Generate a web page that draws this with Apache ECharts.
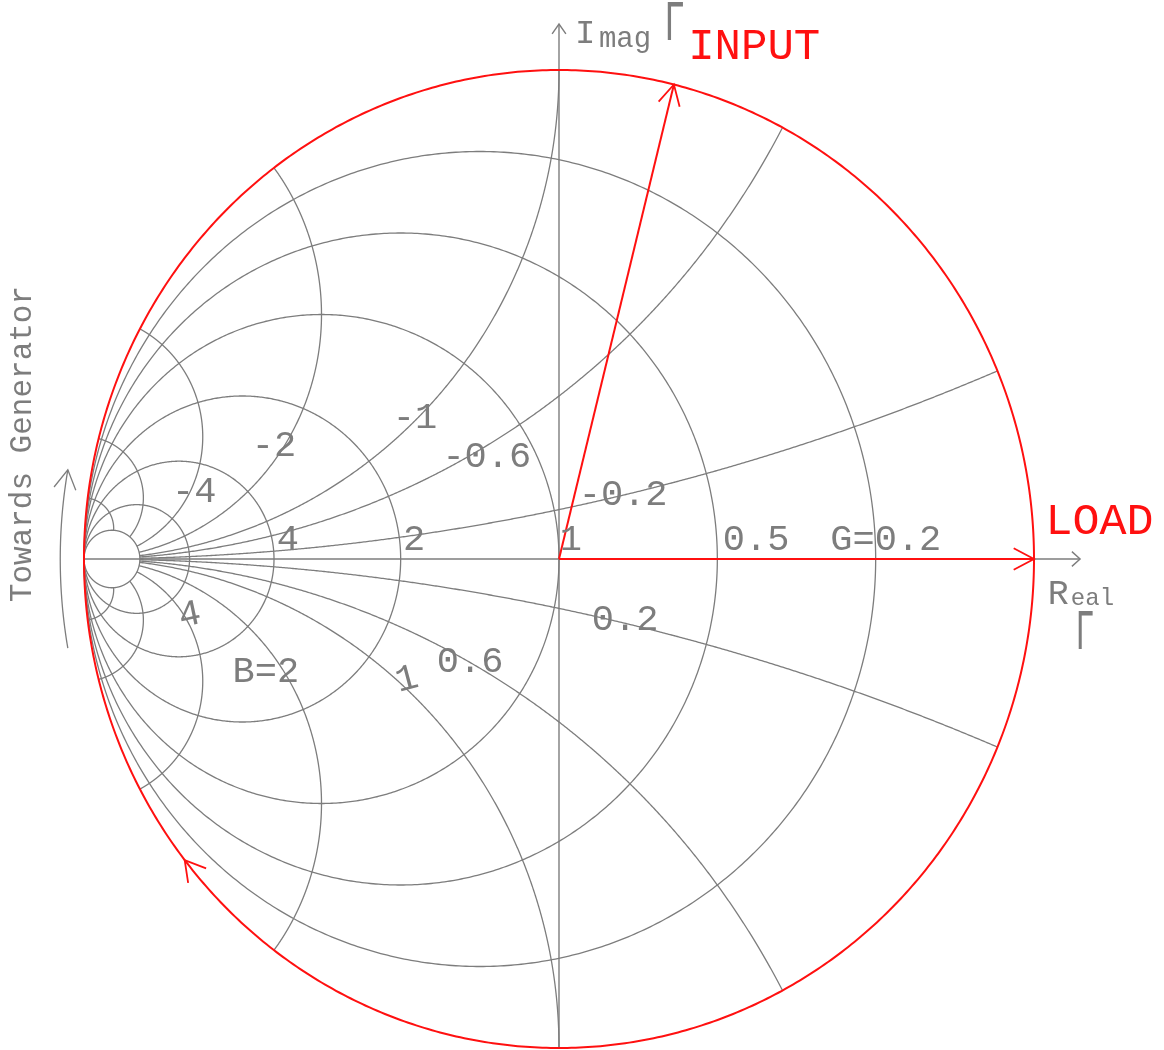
<!DOCTYPE html>
<html>
<head>
<meta charset="utf-8">
<script src="https://cdn.jsdelivr.net/npm/echarts@6/dist/echarts.min.js"></script>
<style>
html, body { margin: 0; padding: 0; background: #ffffff; }
#chart { width: 1164px; height: 1050px; }
</style>
</head>
<body>
<div id="chart"></div>
<script>
// Admittance (Y) Smith chart with load and input reflection vectors.

// Constant-conductance circles (normalised G)
const conductanceCircles = [0.2, 0.5, 1, 2, 4, 8, 16];
// Constant-susceptance arcs (normalised B), drawn from the rim up to the last G circle
const susceptanceArcs = [-16, -8, -4, -2, -1, -0.6, -0.2, 0.2, 0.6, 1, 2, 4, 8, 16];
const conductanceLimit = 16;
// Reflection coefficient vectors: |Γ| and angle in degrees
const vectorNames = ['LOAD', 'INPUT'];
const vectorMagnitude = [1, 1];
const vectorAngleDeg = [0, 76];
// Rim arrow showing rotation direction towards the generator (angle in degrees)
const rimArrowAngleDeg = [218];
// Grid labels
const gridLabelText = ['-0.2', '-0.6', '-1', '-2', '-4', '4', '2', '1', '0.5', 'G=0.2', '0.2', '0.6', '1', 'B=2', '4'];

// ---- layout (Γ-plane positions and tilt of the text) ----
const gridLabelPos = [
  [0.135, 0.131], [-0.152, 0.209], [-0.303, 0.288], [-0.600, 0.231], [-0.768, 0.137],
  [-0.571, 0.039], [-0.305, 0.039], [0.025, 0.039], [0.415, 0.039], [0.688, 0.039],
  [0.139, -0.125], [-0.187, -0.211], [-0.320, -0.247], [-0.617, -0.231], [-0.777, -0.115]
];
const gridLabelTiltDeg = [0, 0, 0, 0, 0, 0, 0, 0, 0, 0, 0, 0, 15, 0, 12];
const GRAY = '#7d7d7d';
const RED = '#ff1010';
const FONT = 'Liberation Mono';

function chevron(tip, from, len, halfDeg) {
  const dx = from[0] - tip[0], dy = from[1] - tip[1];
  const L = Math.hypot(dx, dy) || 1;
  const ux = dx / L, uy = dy / L;
  const a = halfDeg * Math.PI / 180;
  const c = Math.cos(a), s = Math.sin(a);
  const p1 = [tip[0] + (ux * c - uy * s) * len, tip[1] + (ux * s + uy * c) * len];
  const p2 = [tip[0] + (ux * c + uy * s) * len, tip[1] + (-ux * s + uy * c) * len];
  return [p1, tip, p2];
}

function line(points, color, width) {
  return { type: 'polyline', silent: true, shape: { points: points },
           style: { stroke: color, lineWidth: width, fill: 'none' } };
}

function text(api, pos, str, size, color, extra) {
  const p = api.coord(pos);
  return Object.assign({
    type: 'text', silent: true, x: p[0], y: p[1],
    style: { text: str, fontFamily: FONT, fontSize: size, fill: color,
             align: 'center', verticalAlign: 'middle' }
  }, extra || {});
}

// conductance circle: centre (-g/(1+g), 0), radius 1/(1+g)
function renderConductance(params, api) {
  const g = api.value(0);
  const c = -g / (1 + g), r = 1 / (1 + g);
  const pts = [];
  for (let i = 0; i <= 720; i++) {
    const t = i * Math.PI / 360;
    pts.push(api.coord([c + r * Math.cos(t), r * Math.sin(t)]));
  }
  return line(pts, GRAY, 1.3);
}

// susceptance arc: Γ = (1 - y) / (1 + y), y = g + jb, g from 0 to conductanceLimit
function renderSusceptance(params, api) {
  const b = api.value(0);
  const pts = [];
  const N = 600, uMax = conductanceLimit / (1 + conductanceLimit);
  for (let i = 0; i <= N; i++) {
    const u = uMax * i / N;
    const g = u / (1 - u);
    const den = (1 + g) * (1 + g) + b * b;
    pts.push(api.coord([(1 - g * g - b * b) / den, -2 * b / den]));
  }
  return line(pts, GRAY, 1.3);
}

// axes of the Γ plane with open arrowheads
function renderAxes(params, api) {
  const x0 = api.coord([-1, 0]), x1 = api.coord([1.097, 0]);
  const y0 = api.coord([0, -1]), y1 = api.coord([0, 1.094]);
  return {
    type: 'group', children: [
      line([x0, x1], GRAY, 1.4),
      line(chevron(x1, x0, 11, 42), GRAY, 1.4),
      line([y0, y1], GRAY, 1.4),
      line(chevron(y1, y0, 12, 35), GRAY, 1.4)
    ]
  };
}

// |Γ| = 1 rim in red plus the clockwise direction arrow
function renderRim(params, api) {
  const pts = [];
  for (let i = 0; i <= 720; i++) {
    const t = i * Math.PI / 360;
    pts.push(api.coord([Math.cos(t), Math.sin(t)]));
  }
  const a = rimArrowAngleDeg[0] * Math.PI / 180, a2 = a + 0.05;
  const tip = api.coord([Math.cos(a), Math.sin(a)]);
  const from = api.coord([Math.cos(a2), Math.sin(a2)]);
  return { type: 'group', children: [line(pts, RED, 2), line(chevron(tip, from, 23, 30), RED, 1.8)] };
}

// reflection vectors from the centre
function renderVector(params, api) {
  const m = api.value(0), deg = api.value(1);
  const a = deg * Math.PI / 180;
  const o = api.coord([0, 0]);
  const tip = api.coord([m * Math.cos(a), m * Math.sin(a)]);
  return { type: 'group', children: [line([o, tip], RED, 2), line(chevron(tip, o, 23, 28), RED, 1.8)] };
}

// "Towards Generator" arc outside the rim
function renderGenerator(params, api) {
  const R = 1.05, pts = [];
  for (let d = 190; d >= 170; d -= 0.25) {
    const t = d * Math.PI / 180;
    pts.push(api.coord([R * Math.cos(t), R * Math.sin(t)]));
  }
  const tip = pts[pts.length - 1];
  const from = api.coord([R * Math.cos(172 * Math.PI / 180), R * Math.sin(172 * Math.PI / 180)]);
  return {
    type: 'group', children: [
      line(pts, GRAY, 1.3),
      line(chevron(tip, from, 22, 30), GRAY, 1.3),
      text(api, [-1.128, 0.235], 'Towards Generator', 31, GRAY, { rotation: Math.PI / 2 })
    ]
  };
}

function renderGridLabel(params, api) {
  const i = params.dataIndex;
  return text(api, gridLabelPos[i], gridLabelText[i], 37, GRAY,
              { rotation: gridLabelTiltDeg[i] * Math.PI / 180 });
}

function renderTitles(params, api) {
  return {
    type: 'group', children: [
      text(api, [0.055, 1.073], 'I', 34, GRAY),
      text(api, [0.139, 1.063], 'mag', 29, GRAY),
      text(api, [0.243, 1.092], 'Γ', 58, GRAY, { scaleX: 0.6 }),
      text(api, [0.411, 1.047], vectorNames[1], 44, RED),
      text(api, [1.138, 0.076], vectorNames[0], 45, RED),
      text(api, [1.051, -0.073], 'R', 35, GRAY),
      text(api, [1.123, -0.082], 'eal', 24, GRAY),
      text(api, [1.107, -0.153], 'Γ', 58, GRAY, { scaleX: 0.55 })
    ]
  };
}

const chart = echarts.init(document.getElementById('chart'), null, { renderer: 'canvas' });
chart.setOption({
  backgroundColor: '#ffffff',
  animation: false,
  grid: { left: 36.5, right: 35, top: 21.1, bottom: 2 },
  xAxis: { type: 'value', min: -1.1, max: 1.2, show: false },
  yAxis: { type: 'value', min: -1, max: 1.1, show: false },
  series: [
    { type: 'custom', clip: false, z: 1, renderItem: renderConductance, data: conductanceCircles.map(g => [g]) },
    { type: 'custom', clip: false, z: 1, renderItem: renderSusceptance, data: susceptanceArcs.map(b => [b]) },
    { type: 'custom', clip: false, z: 2, renderItem: renderAxes, data: [[0]] },
    { type: 'custom', clip: false, z: 2, renderItem: renderGenerator, data: [[0]] },
    { type: 'custom', clip: false, z: 3, renderItem: renderRim, data: [[1]] },
    { type: 'custom', clip: false, z: 4, renderItem: renderVector,
      data: vectorMagnitude.map((m, i) => [m, vectorAngleDeg[i]]) },
    { type: 'custom', clip: false, z: 5, renderItem: renderGridLabel, data: gridLabelText.map((t, i) => [i]) },
    { type: 'custom', clip: false, z: 5, renderItem: renderTitles, data: [[0]] }
  ]
});
</script>
</body>
</html>
